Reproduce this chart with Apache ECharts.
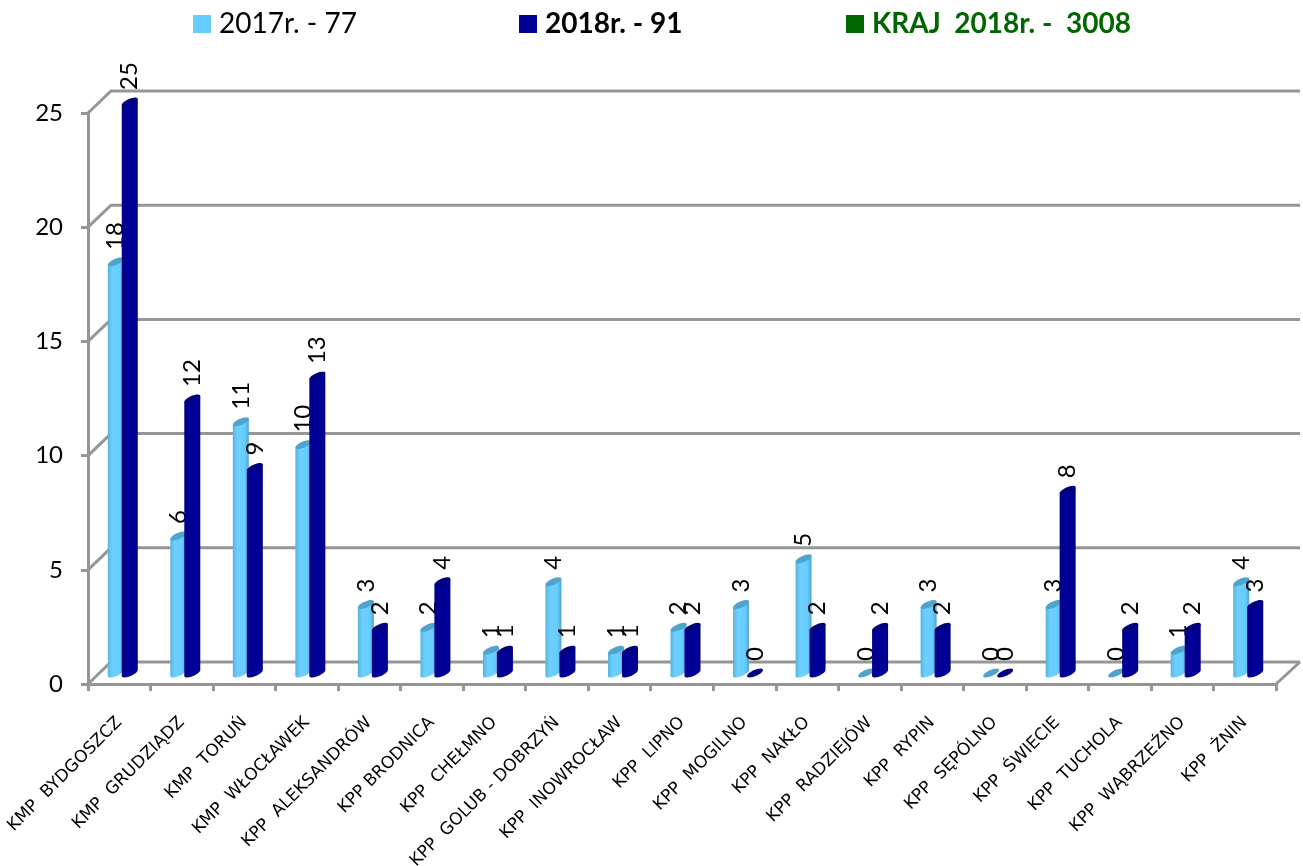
<!DOCTYPE html>
<html>
<head>
<meta charset="utf-8">
<style>
html, body { margin: 0; padding: 0; background: #fff; }
#main { width: 1303px; height: 866px; }
</style>
<script src="https://cdn.jsdelivr.net/npm/echarts@6/dist/echarts.min.js"></script>
</head>
<body>
<div id="main"></div>
<script>
var categories = ['KMP  BYDGOSZCZ', 'KMP  GRUDZIĄDZ', 'KMP  TORUŃ', 'KMP  WŁOCŁAWEK', 'KPP  ALEKSANDRÓW', 'KPP BRODNICA', 'KPP  CHEŁMNO', 'KPP  GOLUB - DOBRZYŃ', 'KPP  INOWROCŁAW', 'KPP  LIPNO', 'KPP  MOGILNO', 'KPP  NAKŁO', 'KPP  RADZIEJÓW', 'KPP  RYPIN', 'KPP  SĘPÓLNO', 'KPP  ŚWIECIE', 'KPP  TUCHOLA', 'KPP  WĄBRZEŹNO', 'KPP  ŻNIN'];
var values2017 = [18, 6, 11, 10, 3, 2, 1, 4, 1, 2, 3, 5, 0, 3, 0, 3, 0, 1, 4];
var values2018 = [25, 12, 9, 13, 2, 4, 1, 1, 1, 2, 0, 2, 2, 2, 0, 8, 2, 2, 3];
var yTicks = [0, 5, 10, 15, 20, 25];
var name2017 = '2017r. - 77';
var name2018 = '2018r. - 91';
var nameKraj = 'KRAJ  2018r. -  3008';

var chart = echarts.init(document.getElementById('main'));

// skewed ellipse, the look of the office 3d cylinder
function ellipsePoints(cx, cy, from, to) {
    var pts = [];
    var n = 24;
    for (var i = 0; i <= n; i++) {
        var t = from + (to - from) * i / n;
        pts.push([cx + 8 * Math.cos(t), cy - 3 * Math.cos(t) + 3.3 * Math.sin(t)]);
    }
    return pts;
}

function cylinder(shift, bodyColor, capColor, labelColor) {
    return function (params, api) {
        var i = api.value(0);
        var v = api.value(1);
        var top = api.coord([i, v]);
        var base = api.coord([i, 0]);
        var cx = top[0] + shift;
        var topY = top[1] - 11;
        var baseY = base[1] - 11;
        var children = [];
        if (v > 0) {
            var pts = [[cx - 8, topY + 3], [cx + 8, topY - 3]].concat(ellipsePoints(cx, baseY, 0, Math.PI));
            children.push({
                type: 'polygon',
                shape: { points: pts },
                style: { fill: new echarts.graphic.LinearGradient(0, 0, 1, 0, bodyColor) }
            });
        }
        children.push({
            type: 'polygon',
            shape: { points: ellipsePoints(cx, topY, 0, Math.PI * 2) },
            style: { fill: capColor }
        });
        children.push({
            type: 'text',
            x: cx,
            y: topY - 12,
            rotation: Math.PI / 2,
            style: {
                x: 0,
                y: 0,
                text: String(v),
                fill: labelColor,
                font: '24px Lato',
                align: 'left',
                verticalAlign: 'middle'
            }
        });
        return { type: 'group', children: children };
    };
}

// back wall lines + diagonals
function renderFrame(params, api) {
    var v = api.value(1);
    var y = api.coord([0, v])[1];
    var left = params.coordSys.x;
    var right = left + params.coordSys.width;
    var lineStyle = { stroke: '#969696', lineWidth: 3, fill: 'none' };
    var children = [
        { type: 'polyline', shape: { points: [[left, y], [left + 23, y - 22], [right + 24, y - 22]] }, style: lineStyle }
    ];
    if (v === 0) {
        children.push({ type: 'line', shape: { x1: right, y1: y, x2: right + 24, y2: y - 22 }, style: lineStyle });
    }
    return { type: 'group', children: children };
}

function toPairs(arr) {
    return arr.map(function (v, i) { return [i, v]; });
}

var legendBase = { orient: 'horizontal', top: 10, padding: 0, icon: 'rect', itemWidth: 18, itemHeight: 18, itemGap: 8, selectedMode: false };

var option = {
    backgroundColor: '#fff',
    animation: false,
    legend: [
        Object.assign({}, legendBase, { left: 193, data: [name2017], textStyle: { fontFamily: 'Lato', fontSize: 28, color: '#000', padding: [0, 0, 0, 3] } }),
        Object.assign({}, legendBase, { left: 519, data: [name2018], textStyle: { fontFamily: 'Lato', fontSize: 28, fontWeight: 'bold', color: '#000', padding: [0, 0, 0, 3] } }),
        Object.assign({}, legendBase, { left: 846, data: [nameKraj], textStyle: { fontFamily: 'Lato', fontSize: 28, fontWeight: 'bold', color: '#006600', padding: [0, 0, 0, 3] } })
    ],
    grid: { left: 88, right: 27, top: 113, bottom: 182, outerBoundsMode: 'none' },
    xAxis: {
        type: 'category',
        data: categories,
        boundaryGap: true,
        axisLine: { lineStyle: { color: '#969696', width: 3 } },
        axisTick: { show: true, alignWithLabel: false, length: 7, lineStyle: { color: '#969696', width: 3 } },
        axisLabel: { interval: 0, rotate: 45, margin: 36, fontFamily: 'DejaVu Sans', fontSize: 17, color: '#000' }
    },
    yAxis: {
        type: 'value',
        min: 0,
        max: 25,
        interval: 5,
        splitLine: { show: false },
        axisLine: { show: true, lineStyle: { color: '#969696', width: 3 } },
        axisTick: { show: true, length: 7, lineStyle: { color: '#969696', width: 3 } },
        axisLabel: { margin: 25, fontFamily: 'Lato', fontSize: 24, color: '#000' }
    },
    series: [
        {
            type: 'custom',
            name: 'frame',
            silent: true,
            z: 1,
            data: yTicks.map(function (v) { return [0, v]; }),
            encode: { x: 0, y: 1 },
            renderItem: renderFrame
        },
        {
            type: 'custom',
            name: name2017,
            z: 2,
            itemStyle: { color: '#66CCFF' },
            data: toPairs(values2017),
            encode: { x: 0, y: 1 },
            renderItem: cylinder(-3.5, [
                { offset: 0, color: '#56B4E2' },
                { offset: 0.3, color: '#6ED0FF' },
                { offset: 0.75, color: '#66CCFF' },
                { offset: 1, color: '#4FA5CF' }
            ], '#4FA3CC', '#000')
        },
        {
            type: 'custom',
            name: name2018,
            z: 3,
            itemStyle: { color: '#000099' },
            data: toPairs(values2018),
            encode: { x: 0, y: 1 },
            renderItem: cylinder(10.5, [
                { offset: 0, color: '#000085' },
                { offset: 0.35, color: '#000099' },
                { offset: 0.8, color: '#000099' },
                { offset: 1, color: '#00007A' }
            ], '#00007E', '#000')
        },
        {
            type: 'custom',
            name: nameKraj,
            itemStyle: { color: '#006600' },
            data: [],
            renderItem: function () { return null; }
        }
    ]
};
chart.setOption(option);
</script>
</body>
</html>
